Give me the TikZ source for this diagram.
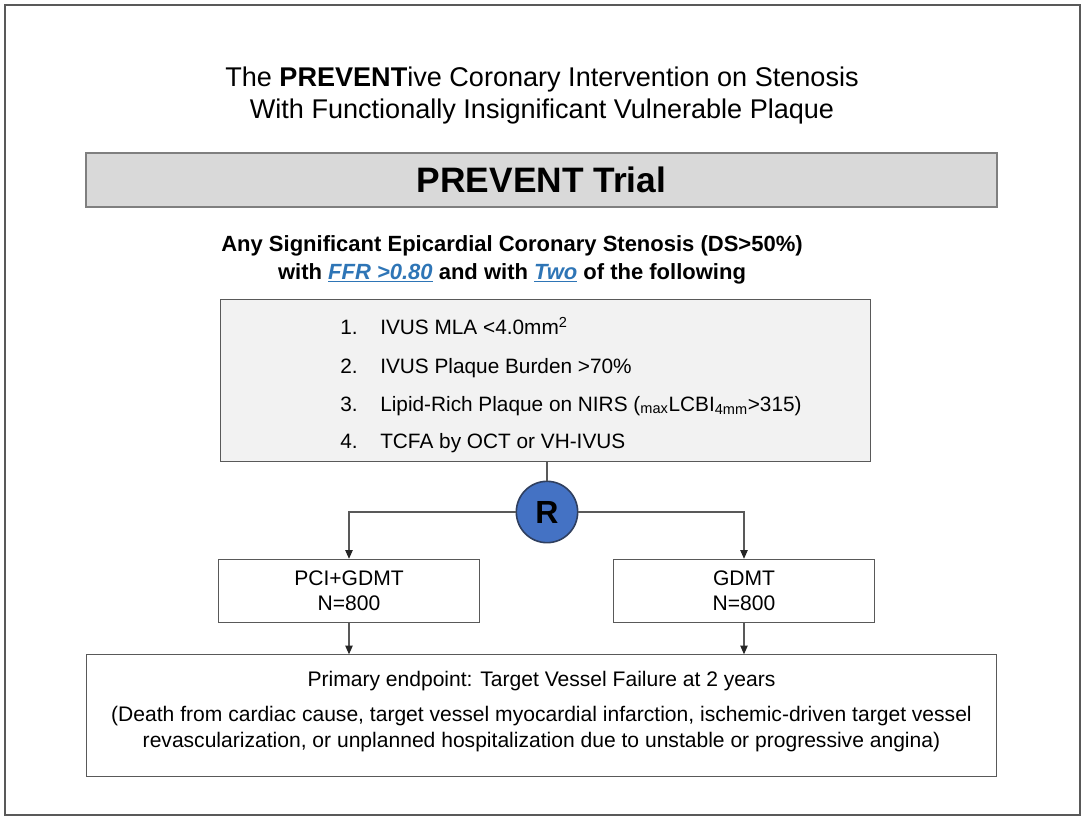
\documentclass[tikz,border=0pt]{standalone}
\usepackage{fontspec}
\setmainfont{Liberation Sans}
\usetikzlibrary{arrows.meta}
\definecolor{linegray}{HTML}{595959}
\definecolor{edgegray}{HTML}{7F7F7F}
\definecolor{boxgray}{HTML}{D9D9D9}
\definecolor{listgray}{HTML}{F2F2F2}
\definecolor{rblue}{HTML}{4472C4}
\definecolor{rborder}{HTML}{2F3F5F}
\definecolor{linkblue}{HTML}{2E75B6}
\newcommand{\linktxt}[1]{\textcolor{linkblue}{\underline{\textit{#1}}}}

\begin{document}
\begin{tikzpicture}[x=0.75pt,y=-0.75pt,
	plainbox/.style={draw=linegray,line width=0.8pt,fill=white,inner sep=0pt,align=center},
	armbox/.style={plainbox,minimum width=195.75pt,minimum height=47.5pt,font=\fontsize{15.8}{19}\selectfont},
	listitem/.style={anchor=base west,inner sep=0pt,font=\fontsize{15.6}{18}\selectfont},
	conn/.style={draw=linegray,line width=0.9pt},
	arr/.style={conn,-{Triangle[length=6.5pt,width=5.5pt,color=black!85]}}]
	\useasboundingbox (0,0) rectangle (1085,822);
	\draw[linegray,line width=0.8pt] (5,5) rectangle (1080,815);
	% title
	\node[align=center,font=\fontsize{20.3}{24}\selectfont] (title) at (542,95)
		{The \textbf{PREVENT}ive Coronary Intervention on Stenosis\\With Functionally Insignificant Vulnerable Plaque};
	\node[plainbox,draw=edgegray,line width=1.3pt,fill=boxgray,minimum width=683pt,minimum height=41pt,font=\fontsize{26.5}{30}\selectfont\bfseries] (trial) at (541.5,180) {PREVENT Trial};
	\node[align=center,font=\fontsize{16.5}{21}\selectfont\bfseries] (incl) at (512,260)
		{Any Significant Epicardial Coronary Stenosis (DS>50\%)\\with \linktxt{FFR >0.80} and with \linktxt{Two} of the following};
	% criteria list
	\node[plainbox,fill=listgray,minimum width=488pt,minimum height=121pt] (crit) at (545.5,380.5) {};
	\foreach \num/\txt/\yy in {1/{IVUS MLA <4.0mm\textsuperscript{2}}/334,
		2/{IVUS Plaque Burden >70\%}/373,
		3/{Lipid-Rich Plaque on NIRS (\textsubscript{max}LCBI\textsubscript{4mm}>315)}/411,
		4/{TCFA by OCT or VH-IVUS}/448}{
		\node[listitem] (num\num) at (340,\yy) {\num.};
		\node[listitem] (item\num) at (380,\yy) {\txt};
	}
	% randomisation
	\node[circle,draw=rborder,line width=1.2pt,fill=rblue,minimum size=46pt,inner sep=0pt,font=\fontsize{24}{28}\selectfont\bfseries] (rand) at (547,512) {R};
	\node[armbox] (pci) at (349,591) {PCI+GDMT\\N=800};
	\node[armbox] (gdmt) at (744,591) {GDMT\\N=800};
	\node[plainbox,minimum width=683pt,minimum height=91pt] (endp) at (541.5,715.5) {};
	\node[align=center,font=\fontsize{15.8}{19}\selectfont] (endptxt) at (541.5,681) {Primary endpoint: Target Vessel Failure at 2 years};
	\node[align=center,font=\fontsize{15.8}{19}\selectfont] (endpdef) at (541.5,729)
		{(Death from cardiac cause, target vessel myocardial infarction, ischemic-driven target vessel\\revascularization, or unplanned hospitalization due to unstable or progressive angina)};
	% connectors
	\draw[conn] (crit.south -| rand) -- (rand);
	\draw[arr] (rand.west) -| (pci.north);
	\draw[arr] (rand.east) -| (gdmt.north);
	\draw[arr] (pci.south) -- (pci.south |- endp.north);
	\draw[arr] (gdmt.south) -- (gdmt.south |- endp.north);
\end{tikzpicture}
\end{document}
